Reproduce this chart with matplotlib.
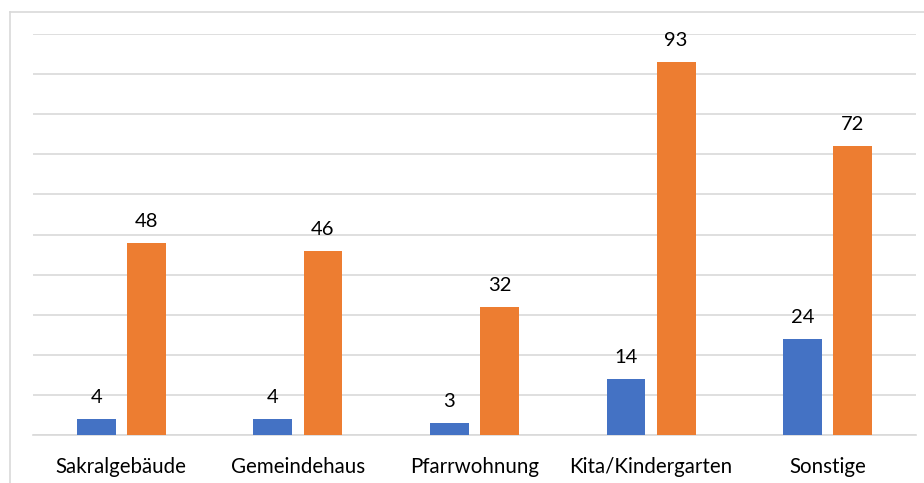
import matplotlib
matplotlib.use("Agg")
import matplotlib.pyplot as plt
import numpy as np
from matplotlib.lines import Line2D

categories = ["Sakralgebäude", "Gemeindehaus", "Pfarrwohnung", "Kita/Kindergarten", "Sonstige"]
series_blue = [4, 4, 3, 14, 24]
series_orange = [48, 46, 32, 93, 72]

C_BLUE = "#4472C4"
C_ORANGE = "#ED7D31"
C_GRID = "#D9D9D9"

plt.rcParams["font.family"] = ["Lato", "DejaVu Sans"]

W, H = 924, 483
fig = plt.figure(figsize=(W / 100, H / 100), dpi=100)
ax = fig.add_axes([33 / W, 48 / H, (916 - 33) / W, (435 - 34) / H])

x = np.arange(len(categories))
bw = 0.22
off = 0.142
ax.bar(x - off, series_blue, bw, color=C_BLUE, zorder=3)
ax.bar(x + off, series_orange, bw, color=C_ORANGE, zorder=3)

for xi, v in zip(x - off, series_blue):
    ax.text(xi, v + 3.2, str(v), ha="center", va="bottom", fontsize=14.5, color="#000000")
for xi, v in zip(x + off, series_orange):
    ax.text(xi, v + 3.2, str(v), ha="center", va="bottom", fontsize=14.5, color="#000000")

ax.set_xlim(-0.5, len(categories) - 0.5)
ax.set_ylim(0, 100)
ax.set_yticks(np.arange(0, 101, 10))
ax.yaxis.grid(True, color=C_GRID, lw=1.2, zorder=0)
ax.tick_params(axis="y", left=False, labelleft=False)
ax.set_xticks(x)
ax.set_xticklabels(categories, fontsize=14.8)
ax.tick_params(axis="x", length=0, pad=16)
for s in ["top", "right", "left"]:
    ax.spines[s].set_visible(False)
ax.spines["bottom"].set_color(C_GRID)
ax.spines["bottom"].set_linewidth(1.2)

# chart area frame (cut off at right and bottom)
fx0, fy0 = 10 / W, 1 - 12 / H
fig.add_artist(Line2D([fx0, 1.0], [fy0, fy0], color=C_GRID, lw=1.2, transform=fig.transFigure))
fig.add_artist(Line2D([fx0, fx0], [0.0, fy0], color=C_GRID, lw=1.2, transform=fig.transFigure))

fig.savefig("out.png", dpi=100)
